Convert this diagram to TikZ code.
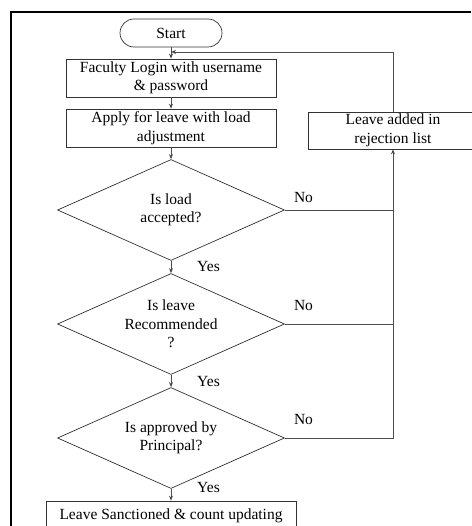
\documentclass[tikz,border=0pt]{standalone}
\usepackage{fontspec}
\setmainfont{Liberation Serif}
\usetikzlibrary{shapes.geometric,arrows.meta}
\tikzset{
  base/.style={draw=black!80, line width=0.7pt, align=center, inner sep=0pt, font=\fontsize{15.5}{18.5}\selectfont},
  procbox/.style={base, rectangle},
  termbox/.style={base, rectangle, rounded corners=14pt, minimum width=102pt, minimum height=28pt},
  decision/.style={base, diamond, minimum width=227pt, minimum height=101pt},
  dtext/.style={font=\fontsize{15.5}{18.5}\selectfont, align=center, inner sep=0pt},
  conn/.style={draw=black!70, line width=0.7pt},
  arr/.style={conn, -{Stealth[length=5pt,width=4pt]}},
  lbl/.style={font=\fontsize{15.5}{18.5}\selectfont, inner sep=0pt},
  frame/.style={line width=2pt, draw=black}
}
\begin{document}
\begin{tikzpicture}[x=1pt,y=-1pt]
\useasboundingbox (0,0) rectangle (471,526);
\fill[white] (0,0) rectangle (471,526);
\draw[frame] (11,12) -- (471,12);
\draw[frame] (11,11) -- (11,526);

\node[termbox] (start) at (171,33) {Start};
\node[procbox, minimum width=210pt, minimum height=38pt] (login) at (171,78) {Faculty Login with username\\\& password};
\node[procbox, minimum width=210pt, minimum height=38pt] (apply) at (171,128) {Apply for leave with load\\adjustment};
\node[procbox, minimum width=170pt, minimum height=37pt] (reject) at (393,130.5) {Leave added in\\rejection list};
\node[decision, label={[dtext]center:Is load\\accepted?}] (d1) at (171,210) {};
\node[decision, label={[dtext]center:Is leave\\Recommended\\?}] (d2) at (171,324) {};
\node[decision, label={[dtext]center:Is approved by\\Principal?}] (d3) at (171,438) {};
\node[procbox, minimum width=250pt, minimum height=30pt] (sanc) at (171,516) {Leave Sanctioned \& count updating};

\coordinate (join) at (171,52);
\coordinate (rtop) at (393,52);
\coordinate (r1) at (393,210);
\coordinate (r2) at (393,324);
\coordinate (r3) at (393,438);

\draw[arr] (start) -- (login);
\draw[arr] (login) -- (apply);
\draw[arr] (apply) -- (d1);
\draw[arr] (d1) -- (d2);
\draw[arr] (d2) -- (d3);
\draw[arr] (d3) -- (sanc);

\draw[conn] (d1.east) -- (r1);
\draw[conn] (d2.east) -- (r2);
\draw[arr] (d3.east) -- (r3) -- (reject.south);
\draw[arr] (reject.north) -- (rtop) -- (join);

\node[lbl] (no1) at (303.5,198) {No};
\node[lbl] (no2) at (303.5,305) {No};
\node[lbl] (no3) at (303.5,419) {No};
\node[lbl] (yes1) at (208.5,267) {Yes};
\node[lbl] (yes2) at (208.5,381) {Yes};
\node[lbl] (yes3) at (208.5,487) {Yes};
\end{tikzpicture}
\end{document}
